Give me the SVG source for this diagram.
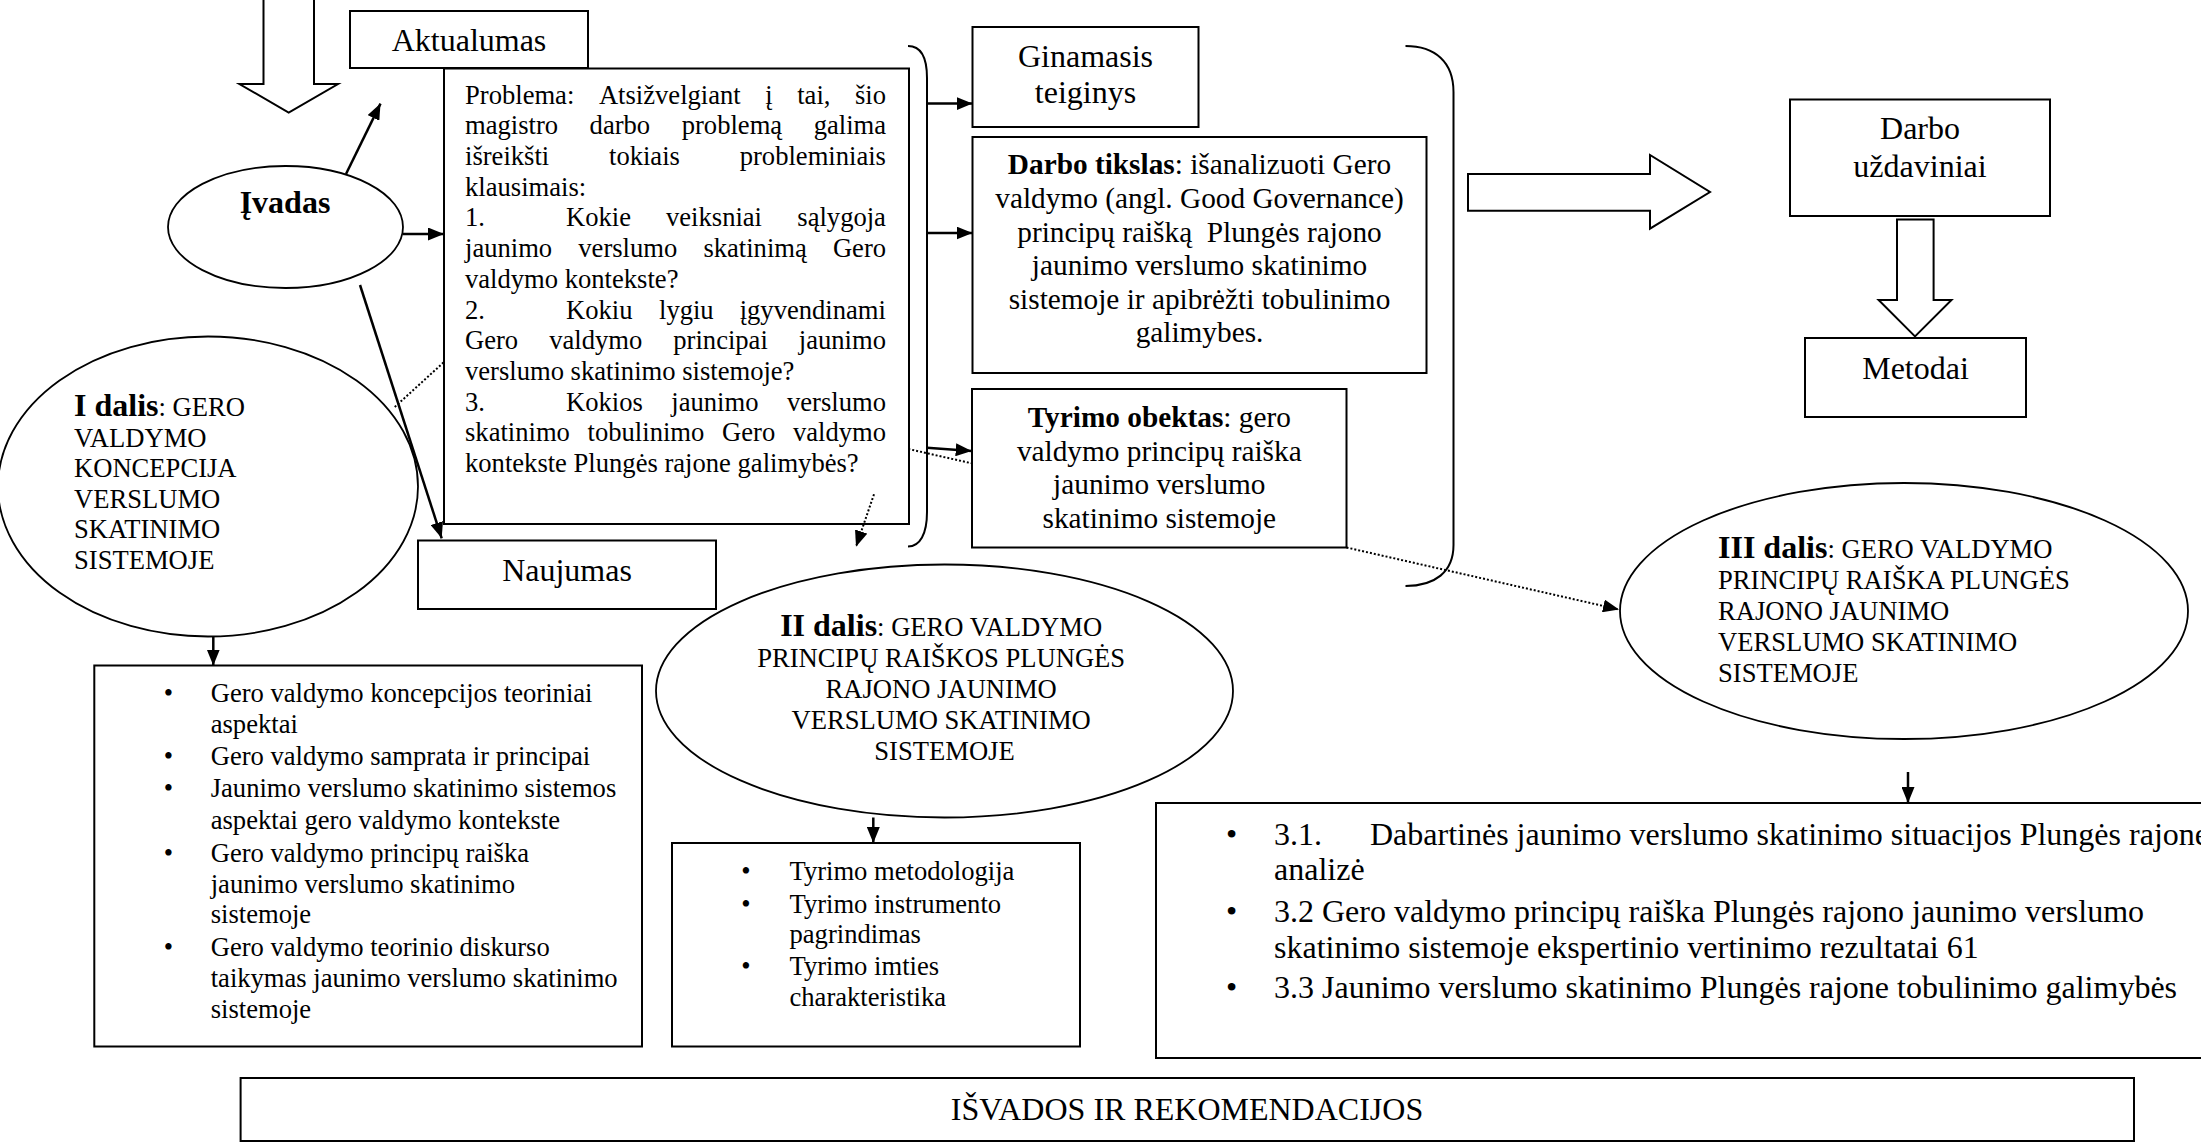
<svg xmlns="http://www.w3.org/2000/svg" width="2201" height="1144" viewBox="0 0 2201 1144">
<defs>
<style>
text{font-family:"Liberation Serif","Times New Roman",serif;fill:#000}
.box{fill:#fff;stroke:#000;stroke-width:2}
.ell{fill:#fff;stroke:#000;stroke-width:1.8}
.hol{fill:#fff;stroke:#000;stroke-width:2}
.ln{fill:none;stroke:#000;stroke-width:2.5}
.dot{fill:none;stroke:#000;stroke-width:2;stroke-dasharray:2 2}
.brk{fill:none;stroke:#000;stroke-width:2}
.s32{font-size:32px}
.s29{font-size:29.3px}
.s27{font-size:26.6px}
.b{font-weight:bold}
.c{text-anchor:middle}
</style>
<marker id="ah" markerUnits="userSpaceOnUse" markerWidth="17" markerHeight="13" refX="16" refY="6.5" orient="auto"><path d="M0,0 L16,6.5 L0,13 z" fill="#000"/></marker>
</defs>
<rect x="0" y="0" width="2201" height="1144" fill="#fff"/>

<g id="aktualumas">
<rect class="box" x="350" y="11" width="238" height="57"/>
<text class="s32 c" x="469" y="50.5">Aktualumas</text>
</g>

<g id="problema">
<rect class="box" x="444" y="68.5" width="465" height="455.5"/>
<text class="s27">
<tspan x="465" y="103.6">Problema:</tspan><tspan x="598.9">Atsižvelgiant</tspan><tspan x="765.3">į</tspan><tspan x="797.2">tai,</tspan><tspan x="855">šio</tspan>
<tspan x="465" y="134.3">magistro</tspan><tspan x="589.6">darbo</tspan><tspan x="681.7">problemą</tspan><tspan x="813.7">galima</tspan>
<tspan x="465" y="165">išreikšti</tspan><tspan x="609">tokiais</tspan><tspan x="739.7">probleminiais</tspan>
<tspan x="465" y="195.7">klausimais:</tspan>
<tspan x="465" y="226.4">1.</tspan><tspan x="566">Kokie</tspan><tspan x="666">veiksniai</tspan><tspan x="797.3">sąlygoja</tspan>
<tspan x="465" y="257.1">jaunimo</tspan><tspan x="578.3">verslumo</tspan><tspan x="703.4">skatinimą</tspan><tspan x="832.9">Gero</tspan>
<tspan x="465" y="287.8">valdymo kontekste?</tspan>
<tspan x="465" y="318.5">2.</tspan><tspan x="566">Kokiu</tspan><tspan x="659">lygiu</tspan><tspan x="739.7">įgyvendinami</tspan>
<tspan x="465" y="349.2">Gero</tspan><tspan x="549.2">valdymo</tspan><tspan x="673.3">principai</tspan><tspan x="798.8">jaunimo</tspan>
<tspan x="465" y="379.9">verslumo skatinimo sistemoje?</tspan>
<tspan x="465" y="410.6">3.</tspan><tspan x="566">Kokios</tspan><tspan x="671.3">jaunimo</tspan><tspan x="787">verslumo</tspan>
<tspan x="465" y="441.3">skatinimo</tspan><tspan x="587.6">tobulinimo</tspan><tspan x="722.1">Gero</tspan><tspan x="792.9">valdymo</tspan>
<tspan x="465" y="472">kontekste Plungės rajone galimybės?</tspan>
</text>
</g>

<g id="ivadas">
<ellipse class="ell" cx="285.5" cy="227" rx="117.5" ry="61"/>
<text class="s32 b c" x="285" y="213">Įvadas</text>
</g>

<g id="i-dalis">
<ellipse class="ell" cx="208" cy="486.5" rx="210" ry="150"/>
<text class="s27">
<tspan x="74" y="416"><tspan class="s32 b">I dalis</tspan>: GERO</tspan>
<tspan x="74" y="446.5">VALDYMO</tspan>
<tspan x="74" y="477">KONCEPCIJA</tspan>
<tspan x="74" y="507.5">VERSLUMO</tspan>
<tspan x="74" y="538">SKATINIMO</tspan>
<tspan x="74" y="568.5">SISTEMOJE</tspan>
</text>
</g>

<g id="naujumas">
<rect class="box" x="418" y="540.5" width="298" height="68.5"/>
<text class="s32 c" x="567" y="580.5">Naujumas</text>
</g>

<g id="bracket-left">
<path class="brk" d="M908,46 C920,46 927,56 927,78 L927,512 C927,534 920,546.5 908,546.5"/>
</g>

<g id="ginamasis">
<rect class="box" x="972.5" y="27" width="226" height="100"/>
<text class="s32 c"><tspan x="1085.5" y="67">Ginamasis</tspan><tspan x="1085.5" y="102.5">teiginys</tspan></text>
</g>

<g id="darbo-tikslas">
<rect class="box" x="972.5" y="137" width="454" height="236"/>
<text class="s29 c" xml:space="preserve"><tspan x="1199.5" y="174.3"><tspan class="b">Darbo tikslas</tspan>: išanalizuoti Gero</tspan><tspan x="1199.5" y="207.9">valdymo (angl. Good Governance)</tspan><tspan x="1199.5" y="241.5">principų raišką  Plungės rajono</tspan><tspan x="1199.5" y="275.1">jaunimo verslumo skatinimo</tspan><tspan x="1199.5" y="308.7">sistemoje ir apibrėžti tobulinimo</tspan><tspan x="1199.5" y="342.3">galimybes.</tspan></text>
</g>

<g id="tyrimo-objektas">
<rect class="box" x="972" y="389" width="374.5" height="158.5"/>
<text class="s29 c"><tspan x="1159.3" y="427"><tspan class="b">Tyrimo obektas</tspan>: gero</tspan><tspan x="1159.3" y="460.5">valdymo principų raiška</tspan><tspan x="1159.3" y="494">jaunimo verslumo</tspan><tspan x="1159.3" y="527.5">skatinimo sistemoje</tspan></text>
</g>

<g id="bracket-right">
<path class="brk" d="M1405.5,46 C1435,46 1453.5,62 1453.5,92 L1453.5,545 C1453.5,572 1435,586 1405.5,586"/>
</g>

<g id="darbo-uzdaviniai">
<rect class="box" x="1790" y="99.5" width="260" height="116.5"/>
<text class="s32 c"><tspan x="1920" y="138.6">Darbo</tspan><tspan x="1920" y="176.8">uždaviniai</tspan></text>
</g>

<g id="metodai">
<rect class="box" x="1805" y="338" width="221" height="79"/>
<text class="s32 c" x="1915.5" y="379.3">Metodai</text>
</g>

<g id="iii-dalis">
<ellipse class="ell" cx="1904" cy="611" rx="284" ry="128"/>
<text class="s27">
<tspan x="1718" y="557.5"><tspan class="s32 b">III dalis</tspan>: GERO VALDYMO</tspan>
<tspan x="1718" y="588.6">PRINCIPŲ RAIŠKA PLUNGĖS</tspan>
<tspan x="1718" y="619.7">RAJONO JAUNIMO</tspan>
<tspan x="1718" y="650.8">VERSLUMO SKATINIMO</tspan>
<tspan x="1718" y="681.9">SISTEMOJE</tspan>
</text>
</g>

<g id="ii-dalis">
<ellipse class="ell" cx="944.5" cy="691" rx="288.5" ry="126.5"/>
<text class="s27 c">
<tspan x="944.5" y="635.5"><tspan class="s32 b">II dalis</tspan>: GERO VALDYMO</tspan>
<tspan x="944.5" y="666.5">PRINCIPŲ RAIŠKOS PLUNGĖS</tspan>
<tspan x="944.5" y="697.5">RAJONO JAUNIMO</tspan>
<tspan x="944.5" y="728.5">VERSLUMO SKATINIMO</tspan>
<tspan x="944.5" y="759.5">SISTEMOJE</tspan>
</text>
</g>

<g id="i-dalis-turinys">
<rect class="box" x="94.3" y="665.5" width="547.7" height="381"/>
<text class="s27 c"><tspan x="168.5" y="701.8">•</tspan><tspan x="168.5" y="765.3">•</tspan><tspan x="168.5" y="797.3">•</tspan><tspan x="168.5" y="861.6">•</tspan><tspan x="168.5" y="956">•</tspan></text>
<text class="s27">
<tspan x="210.7" y="701.8">Gero valdymo koncepcijos teoriniai</tspan>
<tspan x="210.7" y="732.6">aspektai</tspan>
<tspan x="210.7" y="765.3">Gero valdymo samprata ir principai</tspan>
<tspan x="210.7" y="797.3">Jaunimo verslumo skatinimo sistemos</tspan>
<tspan x="210.7" y="828.9">aspektai gero valdymo kontekste</tspan>
<tspan x="210.7" y="861.6">Gero valdymo principų raiška</tspan>
<tspan x="210.7" y="892.5">jaunimo verslumo skatinimo</tspan>
<tspan x="210.7" y="923.3">sistemoje</tspan>
<tspan x="210.7" y="956">Gero valdymo teorinio diskurso</tspan>
<tspan x="210.7" y="986.8">taikymas jaunimo verslumo skatinimo</tspan>
<tspan x="210.7" y="1017.7">sistemoje</tspan>
</text>
</g>

<g id="ii-dalis-turinys">
<rect class="box" x="672" y="843" width="408" height="203.5"/>
<text class="s27 c"><tspan x="746" y="879.6">•</tspan><tspan x="746" y="912.5">•</tspan><tspan x="746" y="974.5">•</tspan></text>
<text class="s27">
<tspan x="789.5" y="879.6">Tyrimo metodologija</tspan>
<tspan x="789.5" y="912.5">Tyrimo instrumento</tspan>
<tspan x="789.5" y="943">pagrindimas</tspan>
<tspan x="789.5" y="974.5">Tyrimo imties</tspan>
<tspan x="789.5" y="1006.3">charakteristika</tspan>
</text>
</g>

<g id="iii-dalis-turinys">
<rect class="box" x="1156" y="803" width="1060" height="255"/>
<text class="s32 c"><tspan x="1231.7" y="845">•</tspan><tspan x="1231.7" y="921.7">•</tspan><tspan x="1231.7" y="997.7">•</tspan></text>
<text class="s32">
<tspan x="1274" y="845">3.1.</tspan><tspan x="1370" y="845">Dabartinės jaunimo verslumo skatinimo situacijos Plungės rajone</tspan>
<tspan x="1274" y="880">analizė</tspan>
<tspan x="1274" y="921.7">3.2 Gero valdymo principų raiška Plungės rajono jaunimo verslumo</tspan>
<tspan x="1274" y="957.7">skatinimo sistemoje ekspertinio vertinimo rezultatai 61</tspan>
<tspan x="1274" y="997.7">3.3 Jaunimo verslumo skatinimo Plungės rajone tobulinimo galimybės</tspan>
</text>
</g>

<g id="isvados">
<rect class="box" x="240.6" y="1078" width="1893.4" height="63"/>
<text class="s32 c" x="1187" y="1119.7">IŠVADOS IR REKOMENDACIJOS</text>
</g>

<g id="connectors">
<polygon class="hol" points="263.5,-3 314,-3 314,84 338,84 288.7,112.5 239.4,84 263.5,84"/>
<polygon class="hol" points="1468,174 1650,174 1650,155 1710,192 1650,228.6 1650,210.7 1468,210.7"/>
<polygon class="hol" points="1897,219.6 1933.6,219.6 1933.6,300 1951.5,300 1915,336.4 1878.6,300 1897,300"/>
<line class="ln" x1="346" y1="174" x2="380.5" y2="103.6" marker-end="url(#ah)"/>
<line class="ln" x1="403" y1="234" x2="444" y2="234" marker-end="url(#ah)"/>
<line class="ln" x1="360" y1="285" x2="441.7" y2="538.3" marker-end="url(#ah)"/>
<line class="dot" x1="443.5" y1="362.5" x2="393.3" y2="408.3"/>
<line class="dot" x1="874" y1="494.3" x2="856" y2="546.7" marker-end="url(#ah)"/>
<line class="ln" x1="927" y1="103.6" x2="972.5" y2="103.6" marker-end="url(#ah)"/>
<line class="ln" x1="927" y1="233" x2="972.5" y2="233" marker-end="url(#ah)"/>
<line class="ln" x1="927" y1="447.7" x2="971.7" y2="451" marker-end="url(#ah)"/>
<line class="dot" x1="908.3" y1="449" x2="971.7" y2="463.3"/>
<line class="dot" x1="1346.5" y1="547.5" x2="1619" y2="609.5" marker-end="url(#ah)"/>
<line class="ln" x1="213.3" y1="636.5" x2="213.3" y2="665.5" marker-end="url(#ah)"/>
<line class="ln" x1="873.3" y1="817.5" x2="873.3" y2="843" marker-end="url(#ah)"/>
<line class="ln" x1="1908" y1="772" x2="1908" y2="803" marker-end="url(#ah)"/>
</g>
</svg>
